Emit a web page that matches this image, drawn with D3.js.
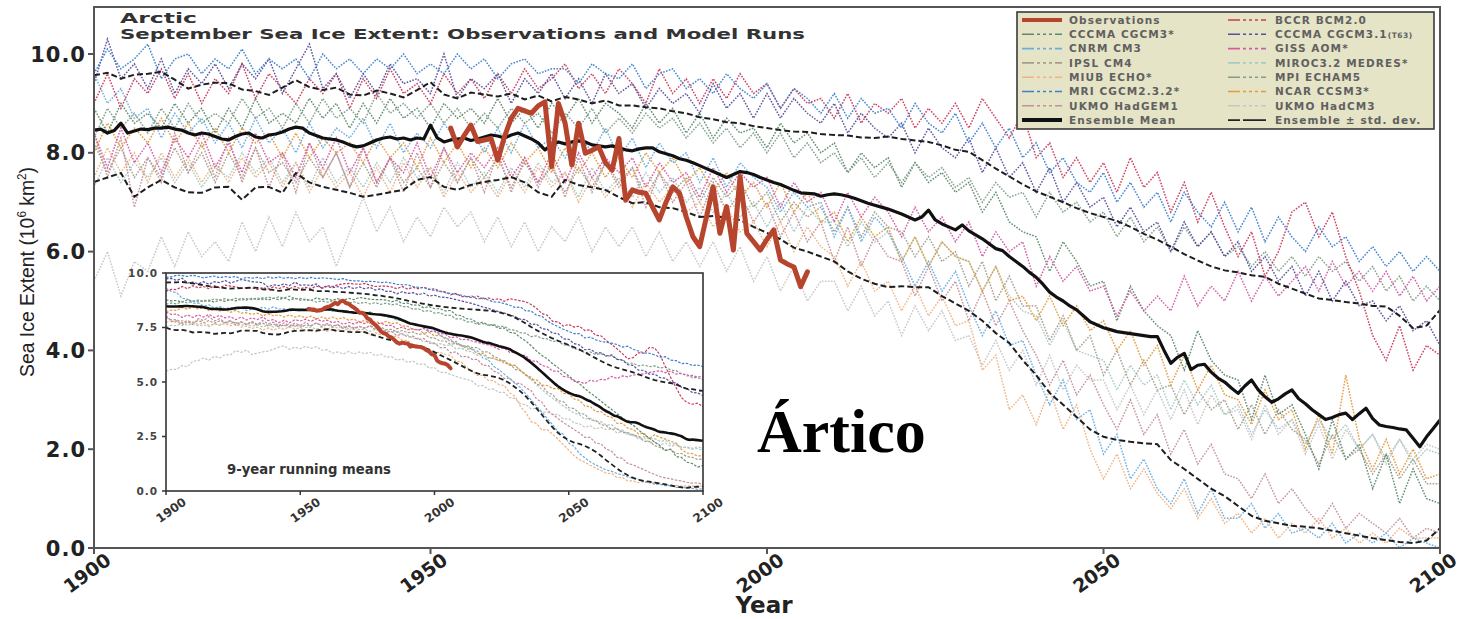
<!DOCTYPE html>
<html><head><meta charset="utf-8">
<script src="https://cdn.jsdelivr.net/npm/d3@7"></script>
<style>body{margin:0;background:#fff}svg{display:block}</style>
</head><body>
<svg id="c" width="1464" height="619"></svg>
<script>
// ---------------- DATA ----------------
const years = d3.range(1900, 2101);       // annual axis
const years2 = d3.range(1900, 2101, 2);   // model runs sampled every 2 years
const obsYears = d3.range(1953, 2007);
const xTicks = [1900, 1950, 2000, 2050, 2100];
const yTicks = [0, 2, 4, 6, 8, 10];
const insetYTicks = [0, 2.5, 5, 7.5, 10];

const observations = [8.50,8.12,8.35,8.56,8.23,8.26,8.29,7.85,8.33,8.70,
 8.90,8.85,8.80,8.95,9.03,7.72,9.00,8.60,7.75,8.60,
 7.99,8.05,8.12,7.80,7.65,8.29,7.04,7.25,7.20,7.18,
 6.90,6.64,7.00,7.31,7.18,6.70,6.30,6.10,6.70,7.31,
 6.37,6.91,6.03,7.52,6.37,6.20,6.03,6.25,6.44,5.83,
 5.75,5.69,5.29,5.59];

const ensembleMean = [8.46,8.48,8.40,8.45,8.60,8.40,8.44,8.48,8.47,8.50,
 8.50,8.52,8.48,8.46,8.40,8.36,8.40,8.38,8.33,8.28,
 8.26,8.33,8.38,8.40,8.32,8.30,8.36,8.38,8.42,8.48,
 8.52,8.50,8.40,8.35,8.30,8.28,8.26,8.22,8.16,8.12,
 8.14,8.20,8.26,8.30,8.32,8.28,8.30,8.26,8.30,8.28,
 8.56,8.30,8.22,8.26,8.28,8.30,8.25,8.28,8.32,8.36,
 8.34,8.30,8.36,8.40,8.34,8.28,8.20,8.06,8.16,8.22,
 8.18,8.22,8.24,8.22,8.16,8.14,8.12,8.14,8.10,8.06,
 8.04,8.08,8.10,8.10,8.02,7.98,7.94,7.88,7.85,7.80,
 7.74,7.68,7.62,7.56,7.50,7.56,7.62,7.60,7.56,7.50,
 7.45,7.40,7.36,7.30,7.24,7.19,7.18,7.17,7.12,7.15,
 7.17,7.15,7.12,7.08,7.03,6.98,6.94,6.90,6.86,6.81,
 6.76,6.70,6.64,6.70,6.84,6.64,6.56,6.50,6.44,6.54,
 6.42,6.34,6.26,6.16,6.06,6.02,5.90,5.80,5.70,5.58,
 5.48,5.34,5.18,5.08,5.00,4.90,4.82,4.70,4.58,4.52,
 4.46,4.42,4.38,4.36,4.34,4.32,4.30,4.28,4.28,4.00,
 3.74,3.86,3.94,3.61,3.70,3.72,3.56,3.44,3.36,3.24,
 3.13,3.28,3.40,3.20,3.06,2.95,3.02,3.12,3.20,3.02,
 2.92,2.80,2.70,2.60,2.64,2.70,2.73,2.60,2.72,2.83,
 2.62,2.49,2.46,2.44,2.41,2.39,2.22,2.05,2.25,2.42,
 2.59];

const stdUpper = [9.57,9.62,9.50,9.58,9.60, 9.64,9.48,9.30,9.38,9.42,
 9.41,9.28,9.25,9.17,9.32, 9.47,9.33,9.27,9.32,9.18,
 9.16,9.26,9.20,9.12,9.27, 9.43,9.18,9.10,9.22,9.18,
 9.14,9.20,9.08,9.16,9.04, 9.13,9.08,9.00,9.06,8.96,
 8.96,8.92,8.90,8.84,8.80, 8.72,8.68,8.62,8.60,8.54,
 8.50,8.46,8.43,8.42,8.38, 8.36,8.35,8.31,8.30,8.33,
 8.28,8.25,8.22,8.15,8.06, 8.02,7.85,7.68,7.52,7.36,
 7.22,7.11,7.00,6.88,6.78, 6.70,6.62,6.50,6.36,6.24,
 6.10,5.95,5.82,5.70,5.62, 5.58,5.52,5.49,5.35,5.25,
 5.15,5.05,5.02,4.98,4.95, 4.90,4.89,4.70,4.45,4.50,
 4.82];

const stdLower = [7.41,7.50,7.59,7.11,7.30, 7.45,7.30,7.20,7.19,7.30,
 7.31,7.05,7.30,7.31,7.19, 7.59,7.40,7.31,7.25,7.19,
 7.11,7.15,7.20,7.25,7.45, 7.51,7.31,7.25,7.35,7.41,
 7.45,7.51,7.40,7.20,7.11, 7.45,7.35,7.30,7.25,7.10,
 6.98,7.00,6.90,6.88,6.80, 6.70,6.72,6.68,6.64,6.50,
 6.38,6.25,6.08,6.00,5.90, 5.80,5.60,5.45,5.35,5.28,
 5.30,5.28,5.28,5.10,4.95, 4.80,4.60,4.35,4.15,3.80,
 3.50,3.14,2.90,2.65,2.40, 2.25,2.19,2.15,2.12,2.10,
 1.78,1.60,1.40,1.20,1.05, 0.85,0.65,0.55,0.50,0.45,
 0.43,0.40,0.35,0.30,0.25, 0.20,0.16,0.12,0.10,0.15,
 0.40];

// model runs, one value every two years 1900..2100
const ukmoHadcm = [5.4,6.0,5.1,5.8,5.6, 6.3,5.7,6.4,5.9,6.2, 5.8,6.6,6.0,6.7,6.1, 6.8,6.2,6.5,5.7,6.4,
 7.1,6.4,6.9,6.2,6.7, 6.3,6.9,6.5,6.8,6.2, 6.7,6.1,6.6,6.0,6.5, 6.2,6.7,6.0,6.5,6.1,
 6.5,5.9,6.4,5.8,6.2, 5.7,6.2,5.6,6.1,5.4, 5.9,5.2,5.7,5.0,5.4, 5.4,4.8,5.3,4.7,5.0,
 4.3,4.9,4.4,4.8,4.2, 4.3,3.7,4.2,3.6,4.0, 3.3,3.9,3.2,3.7,3.4, 3.4,2.8,3.3,2.7,3.2,
 2.6,3.2,2.5,3.1,2.7, 2.8,2.2,2.9,2.3,2.6, 1.9,2.5,1.8,2.4,2.0, 2.3,1.7,2.2,1.8,2.1, 2.0];
const miroc = [7.3,7.9,7.4,7.8,7.5, 7.9,7.4,7.8,7.3,7.7, 7.5,8.0,7.6,7.9,7.4, 7.8,7.3,7.9,7.4,7.7,
 7.3,7.8,7.4,7.9,7.5, 7.7,7.2,7.8,7.3,7.6, 7.2,7.7,7.3,7.8,7.4, 7.6,7.1,7.7,7.2,7.5,
 7.1,7.6,7.2,7.5,7.0, 7.3,6.8,7.2,6.7,7.0, 6.5,7.0,6.4,6.9,6.6, 6.6,6.1,6.6,6.2,6.4,
 5.8,6.3,5.7,6.2,5.9, 5.8,5.2,5.7,5.1,4.8, 4.7,4.1,4.6,4.0,3.9, 3.8,3.2,3.7,3.3,3.5,
 2.8,3.4,2.9,3.3,2.7, 2.9,2.3,2.8,2.4,2.6, 2.1,2.6,2.2,2.5,2.0, 2.3,1.8,2.2,1.7,2.0, 1.9];
const ipsl = [8.2,7.6,8.1,7.5,7.9, 7.5,8.1,7.6,8.0,7.4, 8.0,7.5,8.1,7.6,7.8, 7.4,7.9,7.5,8.0,7.3,
 7.8,7.3,7.9,7.4,7.7, 7.3,7.8,7.4,7.9,7.5, 7.9,7.3,7.8,7.4,7.7, 7.2,7.7,7.3,7.8,7.4,
 7.7,7.1,7.6,7.2,7.5, 7.0,7.5,7.1,7.4,6.9, 7.2,6.6,7.0,6.7,6.9, 6.4,6.9,6.3,6.8,6.5,
 6.4,5.9,6.3,5.8,6.0, 5.3,5.8,5.0,5.5,4.9, 4.9,4.2,4.7,4.0,4.3, 3.5,4.0,3.3,3.8,3.2,
 3.3,2.7,3.2,2.8,3.0, 2.4,2.9,2.3,2.8,2.4, 2.2,1.7,2.3,1.8,2.0, 1.5,1.9,1.4,1.8,1.3, 1.3];
const miub = [7.5,8.1,7.6,8.0,7.4, 8.0,7.5,7.9,7.4,7.8, 7.4,7.9,7.5,7.8,7.3, 7.8,7.2,7.7,7.3,7.6,
 7.1,7.7,7.2,7.8,7.3, 7.7,7.1,7.6,7.2,7.5, 7.1,7.6,7.2,7.7,7.3, 7.6,7.0,7.5,7.1,7.4,
 6.9,7.4,7.0,7.3,6.8, 7.0,6.5,6.9,6.4,6.6, 6.1,6.6,6.0,6.5,6.1, 5.9,5.3,5.8,5.2,5.4,
 4.8,5.3,4.7,5.1,4.5, 4.6,3.6,3.9,2.8,3.1, 2.5,3.2,2.4,2.9,2.0, 1.4,1.9,1.2,1.6,1.1,
 0.8,1.2,0.6,1.0,0.5, 0.7,0.3,0.6,0.2,0.5, 0.3,0.6,0.2,0.4,0.1, 0.3,0.1,0.4,0.2,0.2, 0.2];
const ukmoHadgem1 = [8.4,7.5,8.3,6.9,7.9, 7.4,8.4,7.6,8.2,7.5, 8.3,7.4,8.1,7.3,8.0, 7.2,8.2,7.5,8.0,7.3,
 8.1,7.4,7.9,7.2,8.0, 7.3,8.1,7.4,7.9,7.2, 8.0,7.2,7.9,7.3,7.8, 7.1,7.9,7.2,7.8,7.3,
 7.7,6.9,7.6,7.0,7.4, 6.7,7.4,6.8,7.2,6.6, 7.0,6.3,6.8,6.2,6.6, 5.8,6.5,5.7,6.3,5.9,
 5.8,5.1,5.7,5.0,5.4, 4.6,5.2,4.5,5.0,4.4, 3.9,3.3,3.8,3.1,3.5, 2.9,2.4,3.0,2.3,2.7,
 1.9,2.4,1.7,2.1,1.5, 1.4,1.0,1.5,0.9,1.2, 0.8,0.5,0.9,0.4,0.7, 0.5,0.3,0.6,0.2,0.4, 0.3];
const ncar = [8.0,8.6,8.1,8.5,8.2, 8.7,8.2,8.6,8.1,8.5, 8.0,8.5,8.2,8.4,7.9, 8.4,7.9,8.3,8.0,8.2,
 7.8,8.3,7.9,8.2,7.7, 8.3,7.8,8.2,7.7,8.1, 7.7,8.2,7.8,8.1,7.6, 8.1,7.6,8.0,7.5,7.9,
 7.5,8.0,7.6,7.9,7.4, 7.7,7.2,7.6,7.1,7.4, 6.9,7.4,6.8,7.2,6.6, 6.8,6.2,6.7,6.3,6.5,
 5.8,6.3,5.7,6.2,5.9, 5.8,5.2,5.7,5.0,5.1, 4.6,5.1,4.5,4.9,4.4, 4.6,4.0,4.4,3.7,4.1,
 3.3,3.9,3.2,3.7,3.1, 3.0,2.5,3.2,2.6,2.8, 2.0,2.7,1.9,3.5,2.2, 1.6,2.2,1.5,2.0,1.4, 1.5];
const cccmaCgcm3 = [8.9,8.4,9.0,8.6,8.8, 8.5,9.0,8.6,8.9,8.4, 8.9,8.5,9.1,8.6,8.8, 8.6,9.1,8.7,9.0,8.5,
 9.0,8.6,9.1,8.7,8.9, 8.5,9.0,8.7,8.9,8.6, 9.1,8.6,8.9,8.5,9.0, 8.7,9.1,8.6,9.0,8.8,
 8.5,9.0,8.6,8.9,8.4, 8.8,8.3,8.7,8.4,8.5, 8.1,8.6,8.2,8.4,8.0, 8.2,7.6,8.0,7.7,7.9,
 7.3,7.8,7.4,7.6,7.2, 7.4,6.8,7.2,6.6,6.4, 6.3,5.6,6.2,5.8,5.3, 5.4,4.6,5.3,4.8,4.5,
 4.3,3.6,4.4,3.8,3.5, 3.4,2.6,3.5,2.7,2.9, 2.3,1.6,2.6,1.8,2.1, 1.2,1.9,0.9,1.6,1.0, 0.9];
const cnrm = [9.6,9.0,9.3,8.7,8.9, 8.3,8.8,8.4,8.7,8.2, 8.6,8.1,8.7,8.2,8.5, 8.0,8.6,8.1,8.5,8.3,
 8.7,8.1,8.6,8.0,8.4, 8.1,8.6,8.2,8.5,8.0, 8.5,8.0,8.6,8.1,8.3, 7.9,8.4,8.0,8.5,7.9,
 8.3,7.7,8.2,7.8,8.0, 7.4,7.9,7.3,7.8,7.5, 7.3,6.8,7.2,6.9,7.0, 6.3,6.9,6.2,6.7,6.4,
 5.9,5.3,5.8,5.2,5.6, 4.9,4.3,4.8,4.1,4.2, 3.5,2.9,3.4,2.6,2.8, 1.9,2.3,1.4,1.8,1.2,
 0.9,1.4,0.7,1.2,0.6, 0.6,0.9,0.4,0.7,0.3, 0.4,0.2,0.5,0.1,0.3, 0.1,0.3,0.0,0.2,0.1, 0.0];
const mpiEcham5 = [8.3,8.9,8.5,8.8,8.4, 8.9,8.5,9.0,8.6,8.8, 8.6,9.1,8.7,8.9,8.5, 9.0,8.6,9.1,8.7,8.9,
 8.6,9.2,8.8,9.0,8.7, 9.0,8.6,8.9,8.5,8.8, 8.5,8.9,8.6,8.8,8.4, 8.8,8.5,8.9,8.4,8.7,
 8.4,8.8,8.5,8.7,8.3, 8.6,8.2,8.5,8.1,8.4, 8.0,8.4,7.9,8.2,7.8, 8.0,7.6,7.9,7.5,7.8,
 7.4,7.8,7.5,7.7,7.3, 7.5,7.0,7.4,7.1,7.2, 6.7,7.2,6.8,7.0,6.6, 6.8,6.3,6.7,6.2,6.5,
 6.0,6.5,6.1,6.4,5.9, 6.1,5.7,6.0,5.6,5.9, 5.5,5.9,5.6,5.8,5.4, 5.7,5.2,5.5,5.0,5.3, 5.0];
const giss = [8.4,7.7,8.5,7.8,8.2, 7.6,8.3,7.9,8.4,7.7, 8.2,7.6,8.4,7.8,8.0, 7.5,8.2,7.7,8.3,7.6,
 8.1,7.4,7.9,7.6,8.2, 7.5,8.1,7.6,8.0,7.7, 8.1,7.5,7.9,7.4,8.0, 7.4,8.0,7.5,7.9,7.6,
 7.9,7.3,7.8,7.4,7.6, 7.1,7.7,7.2,7.6,7.3, 7.5,6.9,7.4,7.0,7.2, 6.6,7.2,6.7,7.1,6.8,
 6.3,6.9,6.4,6.7,6.2, 6.6,5.9,6.4,6.0,6.2, 5.3,5.9,5.4,5.7,5.2, 5.3,4.7,5.2,4.8,5.1,
 4.8,5.5,4.9,5.3,5.0, 5.6,5.0,5.5,5.1,5.4, 5.7,5.2,5.8,5.3,5.6, 5.2,5.6,5.1,5.5,5.0, 5.3];
const bccr = [9.0,9.6,8.9,9.5,9.2, 9.7,9.1,9.6,9.0,9.5, 9.2,9.8,9.1,9.6,9.3, 9.0,9.5,9.2,9.6,8.9,
 9.5,9.1,9.7,9.2,9.4, 9.0,9.6,9.2,9.5,9.1, 9.6,9.2,9.7,9.3,9.5, 9.8,9.3,9.6,9.2,9.7,
 9.4,9.0,9.7,9.2,9.5, 9.0,9.5,9.1,9.6,9.2, 9.4,8.9,9.3,9.0,9.1, 8.7,9.2,8.6,9.0,8.8,
 9.1,8.5,8.9,8.6,9.0, 8.5,9.1,8.7,8.3,8.8, 7.9,8.2,7.5,7.9,7.4, 7.8,7.2,7.9,7.3,7.6,
 6.8,7.4,6.6,7.2,6.5, 5.9,6.4,5.5,6.0,6.8, 7.0,6.3,6.8,5.9,5.2, 4.3,3.8,4.5,3.6,4.1, 3.9];
const cccmaT63 = [9.4,10.3,9.5,9.8,9.3, 9.9,9.2,9.7,9.4,9.8, 9.3,9.8,9.5,9.9,9.2, 9.7,10.2,9.3,9.6,9.1,
 9.6,9.2,9.8,9.4,9.5, 9.2,10.0,9.1,9.5,9.3, 9.6,9.0,9.5,9.2,9.6, 9.1,9.5,9.0,9.6,9.2,
 9.4,8.9,9.3,9.0,9.2, 8.8,9.4,8.9,9.2,8.7, 9.2,8.7,9.1,8.8,8.6, 9.0,8.4,8.8,8.5,8.3,
 8.6,8.0,8.5,8.1,7.9, 8.3,7.6,8.1,7.5,7.8, 7.2,7.7,7.0,7.4,6.9, 7.1,6.5,6.9,6.4,6.6,
 6.0,6.6,6.1,6.4,5.9, 6.2,5.6,5.9,5.4,5.7, 5.1,5.6,5.0,5.4,4.9, 5.0,4.6,4.9,4.4,4.6, 4.1];
const mri = [9.6,10.1,9.7,9.9,10.2, 9.5,9.9,10.0,9.6,9.9, 9.7,10.1,9.6,9.9,9.7, 9.9,9.5,10.0,9.7,9.9,
 9.6,9.9,9.7,10.0,9.6, 9.8,9.6,10.0,9.7,9.9, 9.5,9.8,9.9,9.6,9.7, 9.7,9.4,9.8,9.6,9.5,
 9.8,9.3,9.6,9.7,9.3, 9.5,9.2,9.6,9.3,9.1, 9.4,8.9,9.3,9.1,8.8, 9.2,8.7,9.1,8.8,8.9,
 8.5,9.0,8.6,8.4,8.8, 8.2,8.6,8.1,8.5,7.9, 8.2,7.6,7.9,7.4,7.2, 7.6,7.0,7.4,6.9,7.2,
 6.6,7.2,6.8,6.5,7.0, 6.4,6.9,6.2,6.7,6.3, 6.0,6.5,6.1,6.3,5.8, 6.1,5.7,6.0,5.6,5.9, 5.6];

const models = [
  {name:"UKMO HadCM3", values: ukmoHadcm},
  {name:"MIROC3.2 MEDRES*", values: miroc},
  {name:"IPSL CM4", values: ipsl},
  {name:"MIUB ECHO*", values: miub},
  {name:"UKMO HadGEM1", values: ukmoHadgem1},
  {name:"NCAR CCSM3*", values: ncar},
  {name:"CCCMA CGCM3*", values: cccmaCgcm3},
  {name:"CNRM CM3", values: cnrm},
  {name:"MPI ECHAM5", values: mpiEcham5},
  {name:"GISS AOM*", values: giss},
  {name:"BCCR BCM2.0", values: bccr},
  {name:"CCCMA CGCM3.1(T63)", values: cccmaT63},
  {name:"MRI CGCM2.3.2*", values: mri}
];
const legendCol1 = ["Observations","CCCMA CGCM3*","CNRM CM3","IPSL CM4","MIUB ECHO*","MRI CGCM2.3.2*","UKMO HadGEM1","Ensemble Mean"];
const legendCol2 = ["BCCR BCM2.0","CCCMA CGCM3.1(T63)","GISS AOM*","MIROC3.2 MEDRES*","MPI ECHAM5","NCAR CCSM3*","UKMO HadCM3","Ensemble \u00b1 std. dev."];

// ---------------- STYLE ----------------
const colors = {
  "UKMO HadCM3":"#c6c6c6","MIROC3.2 MEDRES*":"#a6cac6","IPSL CM4":"#a79d8d","MIUB ECHO*":"#efb383",
  "UKMO HadGEM1":"#c39098","NCAR CCSM3*":"#e39b3c","CCCMA CGCM3*":"#5d8a6b","CNRM CM3":"#6aade0",
  "MPI ECHAM5":"#7f9f8a","GISS AOM*":"#d35ca6","BCCR BCM2.0":"#c73a5a","CCCMA CGCM3.1(T63)":"#554f9c",
  "MRI CGCM2.3.2*":"#3d7fcc"
};
const OBS = "#b7442c";

const svg = d3.select("#c");
const L = 94, R = 1440, T = 7, B = 548;
const x = d3.scaleLinear().domain([1900, 2100]).range([L, R]);
const y = d3.scaleLinear().domain([0, 10]).range([B, 54]);

svg.append("defs").append("clipPath").attr("id","mainClip")
  .append("rect").attr("x",L).attr("y",T).attr("width",R-L).attr("height",B-T);

const main = svg.append("g").attr("clip-path","url(#mainClip)");
const line2 = d3.line().x((d,i)=>x(years2[i])).y(d=>y(d));
const line1 = d3.line().x((d,i)=>x(years[i])).y(d=>y(d));
const lineObs = d3.line().x((d,i)=>x(obsYears[i])).y(d=>y(d));

models.forEach(m=>{
  main.append("path").attr("d", line2(m.values)).attr("fill","none")
    .attr("stroke", colors[m.name]).attr("stroke-width",1.5)
    .attr("stroke-dasharray","1.6,1.4").attr("opacity",0.95);
});
[stdUpper, stdLower].forEach(s=>{
  main.append("path").attr("d", line2(s)).attr("fill","none")
    .attr("stroke","#1e1e1e").attr("stroke-width",2).attr("stroke-dasharray","6,3");
});
main.append("path").attr("d", line1(ensembleMean)).attr("fill","none")
  .attr("stroke","#111").attr("stroke-width",3.2).attr("stroke-linejoin","round");
main.append("path").attr("d", lineObs(observations)).attr("fill","none")
  .attr("stroke",OBS).attr("stroke-width",5).attr("stroke-linejoin","round").attr("stroke-linecap","round");

// frame & axes
svg.append("rect").attr("x",L).attr("y",T).attr("width",R-L).attr("height",B-T)
  .attr("fill","none").attr("stroke","#555").attr("stroke-width",2);
const tickFont = "'DejaVu Sans', sans-serif";
yTicks.forEach(t=>{
  svg.append("line").attr("x1",L-6).attr("x2",L).attr("y1",y(t)).attr("y2",y(t)).attr("stroke","#555").attr("stroke-width",2);
  svg.append("text").attr("x",L-8).attr("y",y(t)).attr("dy","0.36em").attr("text-anchor","end")
    .attr("font-family",tickFont).attr("font-weight","bold").attr("font-size",21).attr("letter-spacing",1)
    .attr("fill","#222").text(d3.format(".1f")(t));
});
xTicks.forEach(t=>{
  svg.append("line").attr("x1",x(t)).attr("x2",x(t)).attr("y1",B).attr("y2",B+6).attr("stroke","#555").attr("stroke-width",2);
  svg.append("text").attr("transform",`translate(${x(t)-7},${573}) rotate(-36)`).attr("text-anchor","middle")
    .attr("dy","0.36em").attr("font-family",tickFont).attr("font-weight","bold").attr("font-size",19)
    .attr("fill","#222").text(t);
});
svg.append("text").attr("x",764).attr("y",613).attr("text-anchor","middle")
  .attr("font-family",tickFont).attr("font-weight","bold").attr("font-size",23).attr("fill","#222").text("Year");
const yl = svg.append("text").attr("transform","translate(34,272) rotate(-90)").attr("text-anchor","middle")
  .attr("font-family","'Liberation Sans Narrow','Liberation Sans',sans-serif").attr("font-size",20).attr("fill","#222")
  .attr("textLength",210).attr("lengthAdjust","spacingAndGlyphs");
yl.append("tspan").text("Sea Ice Extent (10");
yl.append("tspan").attr("font-size",12).attr("dy",-8).text("6");
yl.append("tspan").attr("dy",8).text(" km");
yl.append("tspan").attr("font-size",12).attr("dy",-8).text("2");
yl.append("tspan").attr("dy",8).text(")");

// titles
svg.append("text").attr("x",120).attr("y",23).attr("font-family",tickFont).attr("font-weight","bold")
  .attr("font-size",14.5).attr("fill","#333").attr("textLength",77).attr("lengthAdjust","spacingAndGlyphs").text("Arctic");
svg.append("text").attr("x",120).attr("y",39).attr("font-family",tickFont).attr("font-weight","bold")
  .attr("font-size",14.5).attr("fill","#333").attr("textLength",685).attr("lengthAdjust","spacingAndGlyphs")
  .text("September Sea Ice Extent: Observations and Model Runs");

// ---------------- LEGEND ----------------
const lg = svg.append("g");
lg.append("rect").attr("x",1017).attr("y",12).attr("width",417).attr("height",117)
  .attr("fill","#e6e4c6").attr("stroke","#3a3a3a").attr("stroke-width",1.6);
function legendStyle(name){
  if(name==="Observations") return {c:OBS,w:4,d:null};
  if(name==="Ensemble Mean") return {c:"#111",w:4,d:null};
  if(name.startsWith("Ensemble")) return {c:"#222",w:1.8,d:"12,3,22,0"};
  return {c:colors[name],w:1.6,d:"12,3,3,3,3,3,3,3"};
}
[[legendCol1,1022,1062,1069],[legendCol2,1228,1266,1275]].forEach(([labels,x1,x2,tx])=>{
  labels.forEach((lab,i)=>{
    const yy = 20 + i*14.3;
    const s = legendStyle(lab);
    const ln = lg.append("line").attr("x1",x1).attr("x2",x2).attr("y1",yy).attr("y2",yy)
      .attr("stroke",s.c).attr("stroke-width",s.w);
    if(s.d) ln.attr("stroke-dasharray",s.d);
    const t = lg.append("text").attr("x",tx).attr("y",yy+3.8).attr("font-family",tickFont)
      .attr("font-weight","bold").attr("font-size",10.5).attr("letter-spacing",1.1).attr("fill","#606060");
    if(lab.includes("(T63)")){
      t.append("tspan").text(lab.replace("(T63)",""));
      t.append("tspan").attr("font-size",7.5).attr("letter-spacing",0.5).text("(T63)");
    } else t.text(lab);
  });
});

// ---------------- INSET ----------------
const iL=166, iR=703, iT=273, iB=491;
const ix = d3.scaleLinear().domain([1900,2100]).range([iL,iR]);
const iy = d3.scaleLinear().domain([0,10]).range([iB,iT]);
function runMean(vals, yrs){
  return vals.map((v,i)=>d3.mean(vals.filter((_,j)=>Math.abs(yrs[j]-yrs[i])<=4)));
}
svg.select("defs").append("clipPath").attr("id","insetClip")
  .append("rect").attr("x",iL).attr("y",iT).attr("width",iR-iL).attr("height",iB-iT);
svg.append("rect").attr("x",iL).attr("y",iT).attr("width",iR-iL).attr("height",iB-iT).attr("fill","#fff");
const ins = svg.append("g").attr("clip-path","url(#insetClip)");
const il2 = d3.line().x((d,i)=>ix(years2[i])).y(d=>iy(d));
const il1 = d3.line().x((d,i)=>ix(years[i])).y(d=>iy(d));
const ilo = d3.line().x((d,i)=>ix(obsYears[i])).y(d=>iy(d));
models.forEach(m=>{
  ins.append("path").attr("d", il2(runMean(m.values, years2))).attr("fill","none")
    .attr("stroke",colors[m.name]).attr("stroke-width",1.2).attr("stroke-dasharray","2.5,1.5");
});
[stdUpper, stdLower].forEach(s=>{
  ins.append("path").attr("d", il2(runMean(s, years2))).attr("fill","none")
    .attr("stroke","#222").attr("stroke-width",1.8).attr("stroke-dasharray","5,3");
});
ins.append("path").attr("d", il1(runMean(ensembleMean, years))).attr("fill","none")
  .attr("stroke","#111").attr("stroke-width",2.6);
ins.append("path").attr("d", ilo(runMean(observations, obsYears))).attr("fill","none")
  .attr("stroke",OBS).attr("stroke-width",4).attr("stroke-linecap","round").attr("stroke-linejoin","round");
svg.append("rect").attr("x",iL).attr("y",iT).attr("width",iR-iL).attr("height",iB-iT)
  .attr("fill","none").attr("stroke","#333").attr("stroke-width",1.6);
insetYTicks.forEach(t=>{
  svg.append("line").attr("x1",iL-4).attr("x2",iL).attr("y1",iy(t)).attr("y2",iy(t)).attr("stroke","#333").attr("stroke-width",1.5);
  svg.append("text").attr("x",iL-8).attr("y",iy(t)).attr("dy","0.36em").attr("text-anchor","end")
    .attr("font-family",tickFont).attr("font-weight","bold").attr("font-size",10.5).attr("letter-spacing",1)
    .attr("fill","#444").text(d3.format(".1f")(t));
});
xTicks.forEach(t=>{
  svg.append("line").attr("x1",ix(t)).attr("x2",ix(t)).attr("y1",iB).attr("y2",iB+4).attr("stroke","#333").attr("stroke-width",1.5);
  svg.append("text").attr("transform",`translate(${ix(t)+5},${510}) rotate(-35)`).attr("text-anchor","middle")
    .attr("dy","0.36em").attr("font-family",tickFont).attr("font-weight","bold").attr("font-size",12)
    .attr("fill","#333").text(t);
});
svg.append("text").attr("x",227).attr("y",474).attr("font-family",tickFont).attr("font-weight","bold")
  .attr("font-size",14).attr("fill","#333").attr("textLength",164).attr("lengthAdjust","spacingAndGlyphs")
  .text("9-year running means");

// big label
svg.append("text").attr("x",757).attr("y",452).attr("font-family","'Liberation Serif','Times New Roman',serif")
  .attr("font-weight","bold").attr("font-size",62).attr("fill","#000").text("Ártico");
</script>
</body></html>
